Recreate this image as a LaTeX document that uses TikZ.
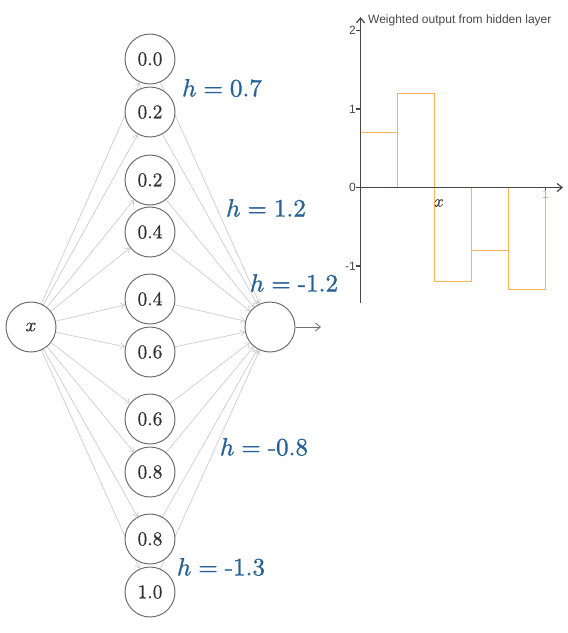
\documentclass[tikz,border=0pt]{standalone}
\usepackage{fontspec}
\newfontfamily\chartfont{Liberation Sans}
\newfontfamily\numfont{lmroman10-regular.otf}[FakeBold=0.7]
\newfontfamily\labfont{lmroman10-regular.otf}[FakeBold=1.2]
\newfontfamily\mitfont{latinmodern-math.otf}[FakeBold=1.2]
\newfontfamily\mitlight{latinmodern-math.otf}[FakeBold=0.8]
\newcommand{\hh}{{\mitfont ℎ}\hspace{0.28em}=\hspace{0.28em}}
\usetikzlibrary{arrows.meta,backgrounds}
\definecolor{hblue}{RGB}{38,98,152}
\definecolor{edgegray}{RGB}{205,205,205}
\definecolor{nodegray}{RGB}{110,110,110}
\definecolor{txtgray}{RGB}{50,50,50}
\definecolor{barorange}{RGB}{255,178,85}
\definecolor{axisgray}{RGB}{70,70,70}
\begin{document}
\begin{tikzpicture}[x=1pt,y=-1pt,
  neuron/.style={circle,draw=nodegray,fill=white,line width=1pt,minimum size=50pt,inner sep=0pt,text=txtgray,font=\numfont\fontsize{19.5}{22}\selectfont},
  edge/.style={draw=edgegray,line width=0.7pt,-{Straight Barb[length=4pt,width=6pt]}},
  hlab/.style={text=hblue,font=\labfont\fontsize{25}{28}\selectfont},
  bar/.style={draw=barorange,line width=1.1pt},
  axis/.style={draw=axisgray,line width=1.2pt},
  ticklab/.style={font=\chartfont\fontsize{12}{14}\selectfont,text=axisgray,inner sep=1pt}]
\useasboundingbox (0,0) rectangle (568,633);
% network
\node[neuron] (x) at (31,327) {\mitlight 𝑥};
\foreach \n/\y/\t in {a/59/0.0,b/112/0.2,c/180/0.2,d/232/0.4,e/299/0.4,f/352/0.6,g/419/0.6,h/472/0.8,i/539/0.8,j/592/1.0}
  \node[neuron] (\n) at (150,\y) {\t};
\node[neuron] (out) at (270,327) {};
\coordinate (outend) at (321,327);
\draw[draw=nodegray,line width=0.8pt,-{Straight Barb[length=5pt,width=8pt]}] (out) -- (outend);
\begin{pgfonlayer}{background}
\foreach \n in {a,b,c,d,e,f,g,h,i,j} {
  \draw[edge] (x) -- (\n);
  \draw[edge] (\n) -- (out);
}
\end{pgfonlayer}
% labels
\node[hlab] (l1) at (222,88) {\hh 0.7};
\node[hlab] (l2) at (266,208) {\hh 1.2};
\node[hlab] (l3) at (294,283) {\hh -1.2};
\node[hlab] (l4) at (264,447) {\hh -0.8};
\node[hlab] (l5) at (221,567) {\hh -1.3};
% chart bars
\draw[bar] (360.5,187.5) rectangle (397.5,132.5);
\draw[bar] (397.5,187.5) rectangle (434.5,93.5);
\draw[bar] (434.5,187.5) rectangle (471.5,281.5);
\draw[bar] (471.5,187.5) rectangle (508.5,250.5);
\draw[bar] (508.5,187.5) rectangle (545.5,289.5);
% axes
\coordinate (yb) at (360.5,303);
\coordinate (yt) at (360.5,17);
\coordinate (xl) at (360.5,187.5);
\coordinate (xr) at (563,187.5);
\draw[axis,-{Straight Barb[length=5pt,width=8pt]}] (yb) -- (yt);
\draw[axis,-{Straight Barb[length=5pt,width=8pt]}] (xl) -- (xr);
\foreach \yy/\lab in {30.5/2,109/1,187.5/0,266/-1} {
  \draw[axis] (356,\yy) -- (360.5,\yy);
  \node[ticklab,anchor=east] at (357,\yy) {\lab};
}
\draw[axis] (545.5,187.5) -- (545.5,191.5);
\node[ticklab,text=gray!60,anchor=north] (one) at (545.5,189) {1};
\node[text=axisgray,font=\mitlight\fontsize{17}{20}\selectfont] (xlab) at (439,203) {𝑥};
\node[ticklab,anchor=west] (title) at (367,20) {Weighted output from hidden layer};
\end{tikzpicture}
\end{document}
